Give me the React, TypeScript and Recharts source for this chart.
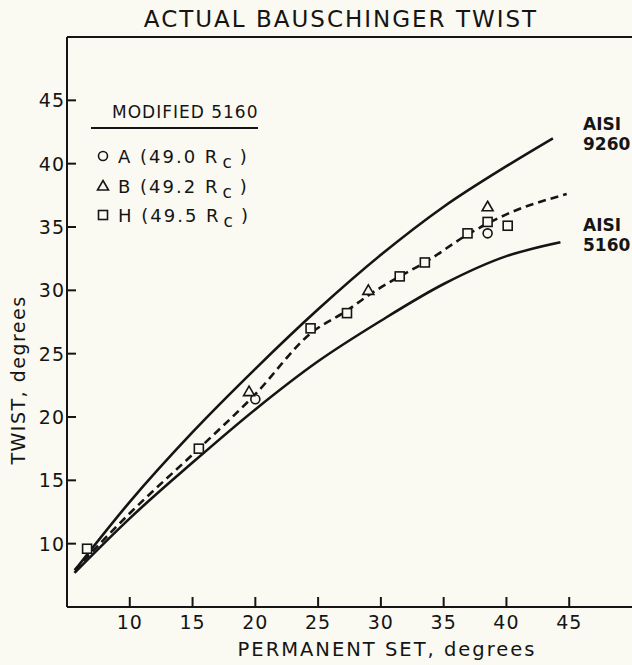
import React from 'react';
import { ComposedChart, Line, Scatter, XAxis, YAxis, ReferenceLine } from 'recharts';

const INK = '#151515';
const PAPER = '#fafaf2';
const FONT = '"DejaVu Sans", sans-serif';

const xTicks = [10, 15, 20, 25, 30, 35, 40, 45];
const yTicks = [10, 15, 20, 25, 30, 35, 40, 45];

// smooth curves (permanent set -> twist)
const aisi9260 = [
  { x: 5.7, y: 8.0 }, { x: 10, y: 13.3 }, { x: 15, y: 18.8 }, { x: 20, y: 23.8 },
  { x: 25, y: 28.5 }, { x: 30, y: 32.8 }, { x: 35, y: 36.6 }, { x: 40, y: 39.8 }, { x: 43.7, y: 42.0 },
];
const aisi5160 = [
  { x: 5.6, y: 7.7 }, { x: 10, y: 12.0 }, { x: 15, y: 16.4 }, { x: 20, y: 20.6 },
  { x: 25, y: 24.4 }, { x: 30, y: 27.6 }, { x: 35, y: 30.5 }, { x: 40, y: 32.7 }, { x: 44.3, y: 33.8 },
];
const modified5160 = [
  { x: 5.6, y: 7.9 }, { x: 10, y: 12.4 }, { x: 15.5, y: 17.5 }, { x: 20, y: 21.8 },
  { x: 24.4, y: 26.6 }, { x: 27.3, y: 28.4 }, { x: 29, y: 29.6 }, { x: 31.5, y: 31.1 },
  { x: 33.5, y: 32.2 }, { x: 36.9, y: 34.4 }, { x: 40, y: 36.0 }, { x: 44.8, y: 37.6 },
];

// test points
const specimenA = [{ x: 20.0, y: 21.4 }, { x: 38.5, y: 34.5 }];
const specimenB = [{ x: 19.5, y: 22.0 }, { x: 29.0, y: 30.0 }, { x: 38.5, y: 36.6 }];
const specimenH = [
  { x: 6.6, y: 9.6 }, { x: 15.5, y: 17.5 }, { x: 24.4, y: 27.0 }, { x: 27.3, y: 28.2 },
  { x: 31.5, y: 31.1 }, { x: 33.5, y: 32.2 }, { x: 36.9, y: 34.5 }, { x: 38.5, y: 35.4 }, { x: 40.1, y: 35.1 },
];

const Circle = (p: any) => <circle cx={p.cx} cy={p.cy} r={4.5} fill={PAPER} stroke={INK} strokeWidth={1.6} />;
const Square = (p: any) => <rect x={p.cx - 4.5} y={p.cy - 4.5} width={9} height={9} fill={PAPER} stroke={INK} strokeWidth={1.6} />;
const Triangle = (p: any) => (
  <polygon points={`${p.cx},${p.cy - 5.5} ${p.cx + 5.5},${p.cy + 4} ${p.cx - 5.5},${p.cy + 4}`} fill={PAPER} stroke={INK} strokeWidth={1.6} />
);

const XTick = ({ x, y, payload }: any) => (
  <g>
    <line x1={x} x2={x} y1={y} y2={y - 10} stroke={INK} strokeWidth={2} />
    <text x={x} y={y + 22} textAnchor="middle" fontSize={19} fill={INK} fontFamily={FONT} letterSpacing={1}>{payload.value}</text>
  </g>
);

const YTick = ({ x, y, payload }: any) => (
  <g>
    <line x1={x} x2={x + 9} y1={y} y2={y} stroke={INK} strokeWidth={2} />
    <text x={x - 2} y={y + 7} textAnchor="end" fontSize={19} fill={INK} fontFamily={FONT} letterSpacing={1}>{payload.value}</text>
  </g>
);

const Rc = ({ x, y, v }: { x: number; y: number; v: string }) => (
  <text x={x} y={y} fontSize={18} fill={INK} fontFamily={FONT} letterSpacing={2}>
    {v}
    <tspan dx={3} dy={5} fontSize={17}>c</tspan>
    <tspan dx={6} dy={-5}>)</tspan>
  </text>
);

export default function App() {
  return (
    <div style={{ position: 'absolute', left: 0, top: 0, width: 632, height: 665, background: PAPER, overflow: 'hidden' }}>
      <ComposedChart width={632} height={665} margin={{ top: 37, right: 0, bottom: 0, left: 0 }}>
        <XAxis
          dataKey="x" type="number" domain={[5, 50]} ticks={xTicks} height={58}
          axisLine={{ stroke: INK, strokeWidth: 2 }} tickLine={false} tickSize={0} tickMargin={0}
          tick={<XTick />} allowDataOverflow
        />
        <YAxis
          dataKey="y" type="number" domain={[5, 50]} ticks={yTicks} width={67}
          axisLine={{ stroke: INK, strokeWidth: 2 }} tickLine={false} tickSize={0} tickMargin={0}
          tick={<YTick />} allowDataOverflow
        />
        <ReferenceLine y={50} stroke={INK} strokeWidth={2} />
        <Line data={aisi9260} dataKey="y" type="monotone" stroke={INK} strokeWidth={2.6} dot={false} isAnimationActive={false} />
        <Line data={aisi5160} dataKey="y" type="monotone" stroke={INK} strokeWidth={2.6} dot={false} isAnimationActive={false} />
        <Line data={modified5160} dataKey="y" type="monotone" stroke={INK} strokeWidth={2.6} strokeDasharray="8 5" dot={false} isAnimationActive={false} />
        <Scatter data={specimenH} shape={Square} isAnimationActive={false} />
        <Scatter data={specimenA} shape={Circle} isAnimationActive={false} />
        <Scatter data={specimenB} shape={Triangle} isAnimationActive={false} />
      </ComposedChart>
      <svg width={632} height={665} style={{ position: 'absolute', left: 0, top: 0, pointerEvents: 'none' }}>
        <text x={341} y={27} textAnchor="middle" fontSize={23} fill={INK} fontFamily={FONT} letterSpacing={2}>ACTUAL BAUSCHINGER TWIST</text>
        <text x={387} y={656} textAnchor="middle" fontSize={19.5} fill={INK} fontFamily={FONT} letterSpacing={2}>PERMANENT SET, degrees</text>
        <text x={0} y={0} transform="translate(25,380) rotate(-90)" textAnchor="middle" fontSize={19} fill={INK} fontFamily={FONT} letterSpacing={1.5}>TWIST, degrees</text>

        <text x={112} y={118} fontSize={17} fill={INK} fontFamily={FONT} letterSpacing={1}>MODIFIED 5160</text>
        <line x1={91} x2={258} y1={128} y2={128} stroke={INK} strokeWidth={2} />
        <Circle cx={103} cy={156} />
        <Triangle cx={103} cy={186} />
        <Square cx={103} cy={215} />
        <Rc x={118} y={163} v="A (49.0 R" />
        <Rc x={118} y={193} v="B (49.2 R" />
        <Rc x={118} y={222} v="H (49.5 R" />

        <text x={583} y={130} fontSize={17} fill={INK} fontFamily={FONT} fontWeight="bold">AISI</text>
        <text x={583} y={150} fontSize={17} fill={INK} fontFamily={FONT} fontWeight="bold">9260</text>
        <text x={583} y={231} fontSize={17} fill={INK} fontFamily={FONT} fontWeight="bold">AISI</text>
        <text x={583} y={251} fontSize={17} fill={INK} fontFamily={FONT} fontWeight="bold">5160</text>
      </svg>
    </div>
  );
}
